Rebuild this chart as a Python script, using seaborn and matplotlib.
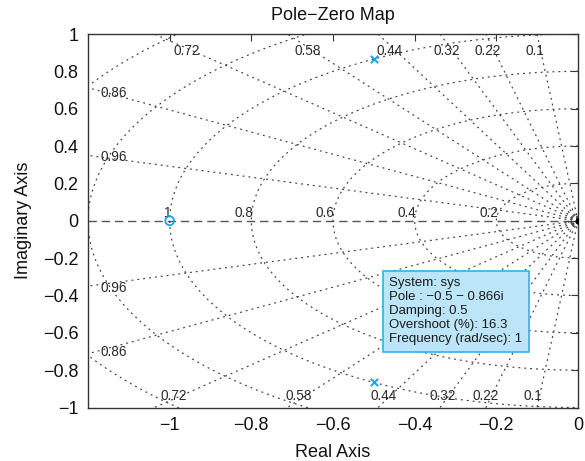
import numpy as np
import pandas as pd
import matplotlib
matplotlib.use("Agg")
import matplotlib.pyplot as plt
import seaborn as sns

# pole-zero data (sys with wn = 1, zeta = 0.5, zero at -1)
pole_re = [-0.5, -0.5]
pole_im = [0.866, -0.866]
zero_re = [-1.0]
zero_im = [0.0]

# grid values shown on the map
damping = [0.1, 0.22, 0.32, 0.44, 0.58, 0.72, 0.86, 0.96]
wn_circles = [0.2, 0.4, 0.6, 0.8, 1.0, 1.2, 1.4]
wn_labels = ["0.2", "0.4", "0.6", "0.8", "1"]
wn_tiny = [0.012, 0.018, 0.024]

tip_lines = [
    "System: sys",
    "Pole : \u22120.5 \u2212 0.866i",
    "Damping: 0.5",
    "Overshoot (%): 16.3",
    "Frequency (rad/sec): 1",
]

sns.set_theme(style="white")
plt.rcParams["font.family"] = ["Liberation Sans", "DejaVu Sans"]
plt.rcParams["axes.unicode_minus"] = True

fig, ax = plt.subplots(figsize=(5.85, 4.61), dpi=100)
fig.subplots_adjust(left=88 / 585, right=578 / 585, bottom=1 - 407.5 / 461, top=1 - 34 / 461)

grid_col = "#3f3f3f"
dots = (0, (1.6, 3.4))

# build grid lines: damping rays and wn circles
rows = []
for i, z in enumerate(damping):
    th = np.arccos(z)
    for sgn in (1, -1):
        for rr in (0, 2.5):
            rows.append(("z%d%d" % (i, sgn), -rr * np.cos(th), sgn * rr * np.sin(th)))
ang = np.linspace(np.pi / 2, 3 * np.pi / 2, 241)
for i, w in enumerate(wn_circles + wn_tiny):
    for a in ang:
        rows.append(("w%d" % i, w * np.cos(a), w * np.sin(a)))
grid_df = pd.DataFrame(rows, columns=["line", "re", "im"])

sns.lineplot(data=grid_df, x="re", y="im", units="line", estimator=None, sort=False,
             color=grid_col, lw=0.85, linestyle=dots, ax=ax, legend=False)

# real axis
ax.plot([-1.2, 0], [0, 0], color="#555555", lw=1.0, dashes=(6, 3.5), zorder=1)
ax.plot([0], [0], marker="o", ms=3.5, color="black", zorder=3)

# poles and zeros
mk_col = "#1aa3e3"
sns.scatterplot(x=pole_re, y=pole_im, marker="x", s=28, color=mk_col, linewidth=1.4, ax=ax, zorder=4)
sns.scatterplot(x=zero_re, y=zero_im, marker="o", s=40, facecolor="none", edgecolor=mk_col,
                linewidth=1.3, ax=ax, zorder=4)

# damping labels
lab_col = "#2b2b2b"
for z in damping:
    slope = np.tan(np.arccos(z))
    if z <= 0.72:
        ax.text(-0.91 / slope - 0.015, 0.91, f"{z:g}", ha="center", va="center", fontsize=9.8, color=lab_col)
        ax.text(-0.94 / slope - 0.015, -0.94, f"{z:g}", ha="center", va="center", fontsize=9.8, color=lab_col)
    else:
        ax.text(-1.138, 1.138 * slope + 0.01, f"{z:g}", ha="center", va="center", fontsize=9.8, color=lab_col)
        ax.text(-1.138, -1.138 * slope - 0.03, f"{z:g}", ha="center", va="center", fontsize=9.8, color=lab_col)

# natural frequency labels on the real axis
for w, lab in zip(wn_circles, wn_labels):
    ax.text(-w + 0.004, 0.006, lab, ha="right", va="bottom", fontsize=9.8, color=lab_col)

# data tip
ax.text(-0.462, -0.302, "\n".join(tip_lines), ha="left", va="top", fontsize=9.5,
        color="#1a1a1a", linespacing=1.22, zorder=6,
        bbox=dict(boxstyle="square,pad=0.5", fc="#bde5f8", ec="#2fb3ea", lw=1.2))

ax.set_xlim(-1.2, 0)
ax.set_ylim(-1, 1)
ax.set_xticks([-1, -0.8, -0.6, -0.4, -0.2, 0])
ax.set_xticklabels(["\u22121", "\u22120.8", "\u22120.6", "\u22120.4", "\u22120.2", "0"])
ax.set_yticks(np.round(np.arange(-1, 1.01, 0.2), 1))
ax.set_yticklabels(["\u22121", "\u22120.8", "\u22120.6", "\u22120.4", "\u22120.2", "0",
                    "0.2", "0.4", "0.6", "0.8", "1"])
ax.tick_params(direction="in", length=5, width=0.8, color="#333333", top=True, right=True,
               labelsize=13, pad=7, labelcolor="#111111")
for s in ax.spines.values():
    s.set_color("#333333")
    s.set_linewidth(1.0)

ax.set_title("Pole\u2212Zero Map", fontsize=13, pad=10, color="#111111")
ax.set_xlabel("Real Axis", fontsize=13, labelpad=7, color="#111111")
ax.set_ylabel("Imaginary Axis", fontsize=13, labelpad=8, color="#111111")

fig.savefig("out.png", dpi=100)
